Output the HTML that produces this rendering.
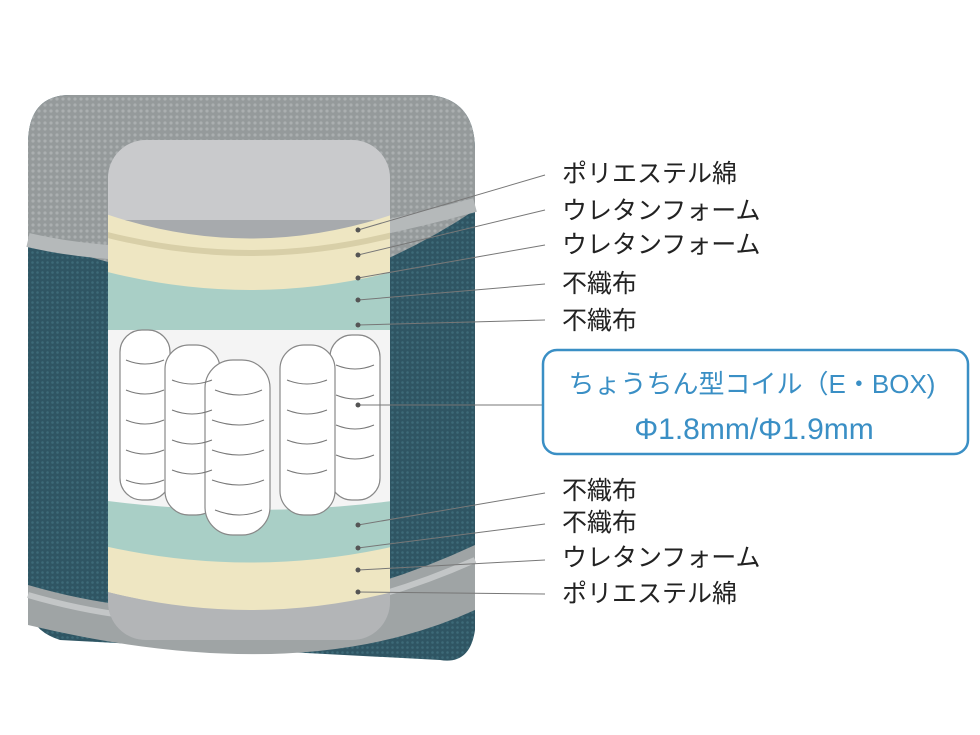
<!DOCTYPE html>
<html><head><meta charset="utf-8"><style>
body{margin:0;background:#fff}
svg{display:block}
text{font-family:"Liberation Sans","Noto Sans CJK JP",sans-serif}
</style></head><body>
<svg width="980" height="735" viewBox="0 0 980 735" xmlns="http://www.w3.org/2000/svg">
<defs>
<pattern id="knit" width="6" height="6" patternUnits="userSpaceOnUse">
<rect width="6" height="6" fill="#959a9b"/><circle cx="3" cy="3" r="1.6" fill="#abafb0"/>
</pattern>
<pattern id="teal" width="5" height="5" patternUnits="userSpaceOnUse">
<rect width="5" height="5" fill="#2f5563"/><circle cx="2.5" cy="2.5" r="1.3" fill="#3d6a78"/>
</pattern>
<clipPath id="inner"><rect x="108" y="140" width="282" height="500" rx="38"/></clipPath>
</defs>
<path d="M70 95 L430 95 Q475 100 475 150 L475 630 Q470 665 440 660 L60 640 Q28 630 28 600 L28 140 Q30 95 70 95Z" fill="url(#teal)"/>
<path d="M70 95 L430 95 Q475 100 475 150 L475 210 Q430 240 380 262 L108 262 L28 240 L28 140 Q30 95 70 95Z" fill="url(#knit)"/>
<path d="M28 240 Q200 280 475 205" stroke="#b5b9ba" stroke-width="14" fill="none"/>
<path d="M28 585 Q250 650 475 545 L475 610 Q300 690 28 625Z" fill="#9fa4a5"/>
<path d="M28 595 Q250 660 475 560" stroke="#c3c6c7" stroke-width="6" fill="none"/>
<g clip-path="url(#inner)">
<rect x="100" y="130" width="300" height="520" fill="#a7aaad"/>
<rect x="100" y="130" width="300" height="90" fill="#c9cacc"/>
<path d="M100 212 Q250 265 400 212 L400 300 Q250 340 100 300Z" fill="#eee6c2"/>
<path d="M100 230 Q250 270 400 230 L400 236 Q250 276 100 236Z" fill="#d8cfa8"/>
<path d="M100 270 Q250 310 400 270 L400 345 Q250 365 100 345Z" fill="#a9cfc6"/>
<rect x="100" y="330" width="300" height="190" fill="#f4f4f4"/>
<path d="M100 500 Q250 520 400 500 L400 560 Q250 590 100 555Z" fill="#a9cfc6"/>
<path d="M100 545 Q250 580 400 545 L400 600 Q250 630 100 590Z" fill="#eee6c2"/>
<path d="M100 590 Q250 630 400 590 L400 650 L100 650Z" fill="#b3b5b7"/>
<g fill="#fff" stroke="#888" stroke-width="1.2">
<rect x="120" y="330" width="50" height="170" rx="22"/>
<rect x="330" y="335" width="50" height="165" rx="22"/>
<rect x="165" y="345" width="55" height="170" rx="24"/>
<rect x="280" y="345" width="55" height="170" rx="24"/>
<rect x="205" y="360" width="65" height="175" rx="28"/>
</g>
<g stroke="#777" stroke-width="1" fill="none">
<path d="M215 390 Q240 400 262 390 M212 420 Q240 430 264 420 M212 450 Q240 460 264 450 M212 480 Q240 490 264 480 M215 510 Q240 520 262 510"/>
<path d="M172 380 Q192 388 212 380 M172 410 Q192 418 212 410 M172 440 Q192 448 212 440 M172 470 Q192 478 212 470"/>
<path d="M287 380 Q307 388 327 380 M287 410 Q307 418 327 410 M287 440 Q307 448 327 440 M287 470 Q307 478 327 470"/>
<path d="M126 360 Q145 368 164 360 M126 390 Q145 398 164 390 M126 420 Q145 428 164 420 M126 450 Q145 458 164 450 M126 480 Q145 488 164 480"/>
<path d="M336 365 Q355 373 374 365 M336 395 Q355 403 374 395 M336 425 Q355 433 374 425 M336 455 Q355 463 374 455"/>
</g>
</g>
<g stroke="#777" stroke-width="1" fill="none">
<line x1="358" y1="230" x2="545" y2="175"/>
<line x1="358" y1="255" x2="545" y2="210"/>
<line x1="358" y1="278" x2="545" y2="245"/>
<line x1="358" y1="300" x2="545" y2="284"/>
<line x1="358" y1="325" x2="545" y2="320"/>
<line x1="358" y1="405" x2="543" y2="405"/>
<line x1="358" y1="525" x2="545" y2="493"/>
<line x1="358" y1="548" x2="545" y2="524"/>
<line x1="358" y1="570" x2="545" y2="560"/>
<line x1="358" y1="592" x2="545" y2="594"/>
</g>
<g fill="#555">
<circle cx="358" cy="230" r="2.5"/><circle cx="358" cy="255" r="2.5"/><circle cx="358" cy="278" r="2.5"/><circle cx="358" cy="300" r="2.5"/><circle cx="358" cy="325" r="2.5"/><circle cx="358" cy="405" r="2.5"/><circle cx="358" cy="525" r="2.5"/><circle cx="358" cy="548" r="2.5"/><circle cx="358" cy="570" r="2.5"/><circle cx="358" cy="592" r="2.5"/>
</g>
<g font-size="25" fill="#222">
<text x="562" y="182">ポリエステル綿</text>
<text x="562" y="219">ウレタンフォーム</text>
<text x="562" y="253">ウレタンフォーム</text>
<text x="562" y="292">不織布</text>
<text x="562" y="329">不織布</text>
<text x="562" y="499">不織布</text>
<text x="562" y="531">不織布</text>
<text x="562" y="566">ウレタンフォーム</text>
<text x="562" y="602">ポリエステル綿</text>
</g>
<rect x="543" y="350" width="425" height="104" rx="14" fill="#fff" stroke="#3a8fc5" stroke-width="2.5"/>
<g fill="#3a8fc5" text-anchor="middle">
<text x="752" y="393" font-size="26">ちょうちん型コイル（E・BOX)</text>
<text x="754" y="439" font-size="30">Φ1.8mm/Φ1.9mm</text>
</g>
</svg>
</body></html>
